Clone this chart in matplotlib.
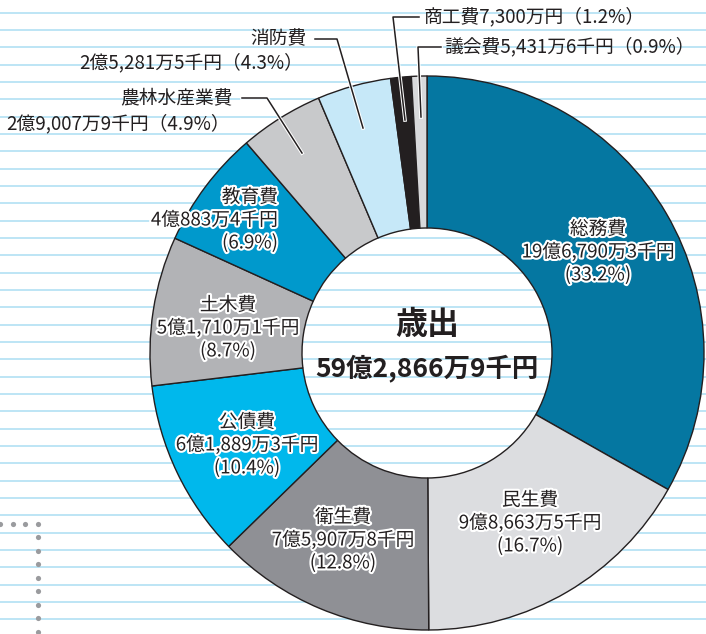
import matplotlib.pyplot as plt
import matplotlib.patheffects as pe
import numpy as np

plt.rcParams['font.family'] = ['Noto Sans CJK JP', 'DejaVu Sans']

# 歳出の内訳
names = ['総務費', '民生費', '衛生費', '公債費', '土木費', '教育費',
         '農林水産業費', '消防費', '商工費', '議会費']
amounts = ['19億6,790万3千円', '9億8,663万5千円', '7億5,907万8千円', '6億1,889万3千円',
           '5億1,710万1千円', '4億883万4千円', '2億9,007万9千円', '2億5,281万5千円',
           '7,300万円', '5,431万6千円']
shares = [33.2, 16.7, 12.8, 10.4, 8.7, 6.9, 4.9, 4.3, 1.2, 0.9]
colors = ['#0577a1', '#dcdde0', '#8f9095', '#00b8ec', '#b2b3b6', '#0099cc',
          '#c8c9cb', '#c6e8f8', '#231f20', '#d8d9db']
total_label = '59億2,866万9千円'

dark = '#231f20'

fig = plt.figure(figsize=(7.06, 6.34), dpi=100)
ax = fig.add_axes([0, 0, 1, 1])

# notebook lines in the background
for y in np.arange(12.7, 634, 17.33):
    ax.axhline(y, color='#bde5f5', lw=1.4, zorder=0)

# dotted guide bottom-left
ax.scatter([0, 12.5, 25, 38], [524] * 4, s=14, color='#9a9b9e', zorder=1, lw=0)
vy = np.arange(537, 640, 13.5)
ax.scatter([38] * len(vy), vy, s=14, color='#9a9b9e', zorder=1, lw=0)

cx, cy, R = 427, 353, 277
ax.pie(shares, colors=colors, startangle=-90, counterclock=True,
       center=(cx, cy), radius=R, frame=True,
       wedgeprops=dict(width=R - 125, edgecolor=dark, linewidth=1.0))
ax.set_xlim(0, 706)
ax.set_ylim(634, 0)
ax.set_aspect('equal')
ax.axis('off')

stroke = [pe.withStroke(linewidth=3, foreground='white')]
fs = 13.5

# labels inside the ring
inside = {0: (598, 252, 'center'), 1: (530, 523, 'center'), 2: (343, 540, 'center'),
          3: (247, 445, 'center'), 4: (228, 328, 'center'), 5: (278, 220, 'right')}
for i, (x, y, ha) in inside.items():
    ax.text(x, y, f'{names[i]}\n{amounts[i]}\n({shares[i]}%)', ha=ha, va='center',
            multialignment=ha, fontsize=fs, color=dark, linespacing=1.12,
            path_effects=stroke, zorder=5)

# labels outside with leader lines
lead = dict(color=dark, lw=1.1, zorder=4,
            path_effects=[pe.Stroke(linewidth=2.6, foreground='white'), pe.Normal()])

ax.text(307, 39, names[7], ha='right', va='center', fontsize=fs, color=dark)
ax.text(303, 63, f'{amounts[7]}（{shares[7]}%）', ha='right', va='center', fontsize=fs, color=dark)
ax.plot([315, 337, 363], [39, 39, 128], **lead)

ax.text(233, 99, names[6], ha='right', va='center', fontsize=fs, color=dark)
ax.text(230, 124, f'{amounts[6]}（{shares[6]}%）', ha='right', va='center', fontsize=fs, color=dark)
ax.plot([242, 267, 302], [98, 98, 153], **lead)

ax.text(424, 17, f'{names[8]}{amounts[8]}（{shares[8]}%）', ha='left', va='center',
        fontsize=fs, color=dark)
ax.plot([419, 393, 405], [17, 17, 120], **lead)

ax.text(444, 47, f'{names[9]}{amounts[9]}（{shares[9]}%）', ha='left', va='center',
        fontsize=fs, color=dark)
ax.plot([441, 418, 421], [47, 47, 117], **lead)

# centre
ax.text(cx, 325, '歳出', ha='center', va='center', fontsize=23, fontweight='bold', color=dark)
ax.text(cx, 368, total_label, ha='center', va='center', fontsize=19, fontweight='bold', color=dark)

fig.savefig('out.png', dpi=100)
